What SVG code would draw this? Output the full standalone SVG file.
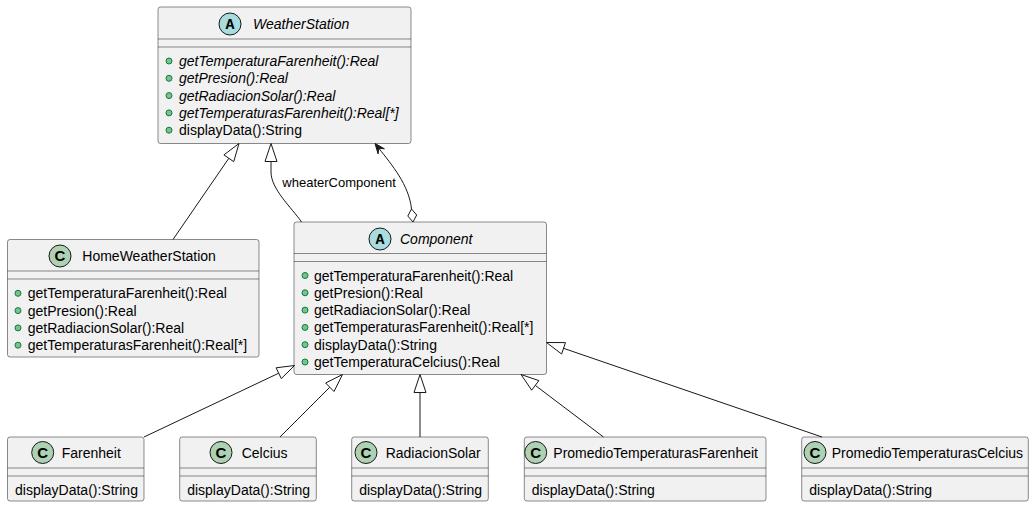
<svg xmlns="http://www.w3.org/2000/svg" width="1034" height="507" viewBox="0 0 1034 507">
<style>
.box{fill:#F1F1F1;stroke:#181818;stroke-width:0.5}
.sep{stroke:#181818;stroke-width:0.5}
.t{font-family:"Liberation Sans",Arial,sans-serif;font-size:14px;fill:#000}
.it{font-style:italic}
.ci{stroke:#181818;stroke-width:1}
.cc{fill:#ADD1B2}
.ca{fill:#A9DCDF}
.cl{font-family:"Liberation Sans",Arial,sans-serif;font-weight:bold;font-size:15px;text-anchor:middle;fill:#000}
.al{font-family:"Liberation Mono","Courier New",monospace;font-weight:bold;font-size:15px;text-anchor:middle;fill:#000}
.b{fill:#84BE84;stroke:#038048;stroke-width:1}
.ln{fill:none;stroke:#181818;stroke-width:1}
.tri{fill:none;stroke:#181818;stroke-width:1}
.lbl{font-family:"Liberation Sans",Arial,sans-serif;font-size:13px;fill:#000}
</style>
<rect width="1034" height="507" fill="#FFFFFF"/>

<g id="WeatherStation">
<rect class="box" x="158" y="7" width="253" height="136.5" rx="2.5"/>
<circle class="ci ca" cx="230" cy="24" r="11"/>
<text class="al" x="230" y="29">A</text>
<text class="t it" x="253" y="29">WeatherStation</text>
<line class="sep" x1="158" y1="39" x2="411" y2="39"/>
<line class="sep" x1="158" y1="47" x2="411" y2="47"/>
<circle class="b" cx="169" cy="61" r="3"/><text class="t it" x="179" y="66">getTemperaturaFarenheit():Real</text>
<circle class="b" cx="169" cy="78.3" r="3"/><text class="t it" x="179" y="83.3">getPresion():Real</text>
<circle class="b" cx="169" cy="95.6" r="3"/><text class="t it" x="179" y="100.6">getRadiacionSolar():Real</text>
<circle class="b" cx="169" cy="112.9" r="3"/><text class="t it" x="179" y="117.9">getTemperaturasFarenheit():Real[*]</text>
<circle class="b" cx="169" cy="130.2" r="3"/><text class="t" x="179" y="135.2">displayData():String</text>
</g>

<g id="HomeWeatherStation">
<rect class="box" x="7.5" y="239.5" width="251.5" height="117.5" rx="2.5"/>
<circle class="ci cc" cx="60" cy="256" r="11"/>
<text class="cl" x="60" y="261.3">C</text>
<text class="t" x="82.3" y="261">HomeWeatherStation</text>
<line class="sep" x1="7.5" y1="271" x2="259" y2="271"/>
<line class="sep" x1="7.5" y1="279" x2="259" y2="279"/>
<circle class="b" cx="18" cy="293.3" r="3"/><text class="t" x="27.7" y="298.3">getTemperaturaFarenheit():Real</text>
<circle class="b" cx="18" cy="310.6" r="3"/><text class="t" x="27.7" y="315.6">getPresion():Real</text>
<circle class="b" cx="18" cy="327.9" r="3"/><text class="t" x="27.7" y="332.9">getRadiacionSolar():Real</text>
<circle class="b" cx="18" cy="345.2" r="3"/><text class="t" x="27.7" y="350.2">getTemperaturasFarenheit():Real[*]</text>
</g>

<g id="Component">
<rect class="box" x="294" y="222" width="252.5" height="152.5" rx="2.5"/>
<circle class="ci ca" cx="380" cy="239" r="11"/>
<text class="al" x="380" y="244">A</text>
<text class="t it" x="400" y="244">Component</text>
<line class="sep" x1="294" y1="253.5" x2="546.5" y2="253.5"/>
<line class="sep" x1="294" y1="261.5" x2="546.5" y2="261.5"/>
<circle class="b" cx="305" cy="275.5" r="3"/><text class="t" x="314" y="280.5">getTemperaturaFarenheit():Real</text>
<circle class="b" cx="305" cy="292.8" r="3"/><text class="t" x="314" y="297.8">getPresion():Real</text>
<circle class="b" cx="305" cy="310.1" r="3"/><text class="t" x="314" y="315.1">getRadiacionSolar():Real</text>
<circle class="b" cx="305" cy="327.4" r="3"/><text class="t" x="314" y="332.4">getTemperaturasFarenheit():Real[*]</text>
<circle class="b" cx="305" cy="344.7" r="3"/><text class="t" x="314" y="349.7">displayData():String</text>
<circle class="b" cx="305" cy="362" r="3"/><text class="t" x="314" y="367">getTemperaturaCelcius():Real</text>
</g>

<g id="Farenheit">
<rect class="box" x="7.5" y="437" width="136.5" height="64" rx="2.5"/>
<circle class="ci cc" cx="42.7" cy="452.5" r="11"/>
<text class="cl" x="42.7" y="457.8">C</text>
<text class="t" x="61.7" y="457.5">Farenheit</text>
<line class="sep" x1="7.5" y1="468" x2="144" y2="468"/>
<line class="sep" x1="7.5" y1="476" x2="144" y2="476"/>
<text class="t" x="15" y="495">displayData():String</text>
</g>

<g id="Celcius">
<rect class="box" x="179.7" y="437" width="136.6" height="64" rx="2.5"/>
<circle class="ci cc" cx="221" cy="452.5" r="11"/>
<text class="cl" x="221" y="457.8">C</text>
<text class="t" x="241.7" y="457.5">Celcius</text>
<line class="sep" x1="179.7" y1="468" x2="316.3" y2="468"/>
<line class="sep" x1="179.7" y1="476" x2="316.3" y2="476"/>
<text class="t" x="187.2" y="495">displayData():String</text>
</g>

<g id="RadiacionSolar">
<rect class="box" x="351.7" y="437" width="136.6" height="64" rx="2.5"/>
<circle class="ci cc" cx="366" cy="452.5" r="11"/>
<text class="cl" x="366" y="457.8">C</text>
<text class="t" x="385.7" y="457.5">RadiacionSolar</text>
<line class="sep" x1="351.7" y1="468" x2="488.3" y2="468"/>
<line class="sep" x1="351.7" y1="476" x2="488.3" y2="476"/>
<text class="t" x="359.2" y="495">displayData():String</text>
</g>

<g id="PromedioTemperaturasFarenheit">
<rect class="box" x="524.3" y="437" width="241.7" height="64" rx="2.5"/>
<circle class="ci cc" cx="535.7" cy="452.5" r="11"/>
<text class="cl" x="535.7" y="457.8">C</text>
<text class="t" x="553.3" y="457.5">PromedioTemperaturasFarenheit</text>
<line class="sep" x1="524.3" y1="468" x2="766" y2="468"/>
<line class="sep" x1="524.3" y1="476" x2="766" y2="476"/>
<text class="t" x="531.8" y="495">displayData():String</text>
</g>

<g id="PromedioTemperaturasCelcius">
<rect class="box" x="801.7" y="437" width="226.6" height="64" rx="2.5"/>
<circle class="ci cc" cx="815" cy="452.5" r="11"/>
<text class="cl" x="815" y="457.8">C</text>
<text class="t" x="831.7" y="457.5">PromedioTemperaturasCelcius</text>
<line class="sep" x1="801.7" y1="468" x2="1028.3" y2="468"/>
<line class="sep" x1="801.7" y1="476" x2="1028.3" y2="476"/>
<text class="t" x="809.2" y="495">displayData():String</text>
</g>

<g id="connectors">
<!-- HomeWeatherStation -> WeatherStation -->
<line class="ln" x1="173" y1="239.5" x2="228.8" y2="158.3"/>
<polygon class="tri" points="239,143.5 233.7,161.7 223.9,154.9"/>
<!-- Component -> WeatherStation -->
<path class="ln" d="M301.5,222 C291,207 271,189 271,172 L271,161.5"/>
<polygon class="tri" points="271,143.5 277,161.5 265,161.5"/>
<text class="lbl" x="282.3" y="187">wheaterComponent</text>
<!-- aggregation Component o-> WeatherStation -->
<path class="ln" d="M411.5,209 C409,185 392,165 378.75,148.2"/>
<polygon points="375,143.5 384.4,148.8 378.75,148.2 378.1,153.8" fill="#181818" stroke="#181818" stroke-width="1"/>
<polygon points="413,222 416.7,215 411.5,209 407.8,216" fill="#FFFFFF" stroke="#181818" stroke-width="1"/>
<!-- Farenheit -> Component -->
<line class="ln" x1="144" y1="437" x2="278.7" y2="373.2"/>
<polygon class="tri" points="294.5,365.5 281.3,378.6 276.1,367.8"/>
<!-- Celcius -> Component -->
<line class="ln" x1="280" y1="437" x2="329.8" y2="387.2"/>
<polygon class="tri" points="342.5,374.5 334,391.5 325.6,383"/>
<!-- RadiacionSolar -> Component -->
<line class="ln" x1="420" y1="437" x2="420" y2="392.5"/>
<polygon class="tri" points="420,374.5 426,392.5 414,392.5"/>
<!-- PromedioTemperaturasFarenheit -> Component -->
<line class="ln" x1="603.5" y1="437" x2="535.3" y2="385.4"/>
<polygon class="tri" points="521,374.5 538.9,380.6 531.7,390.2"/>
<!-- PromedioTemperaturasCelcius -> Component -->
<line class="ln" x1="822" y1="437" x2="563.5" y2="348.3"/>
<polygon class="tri" points="546.5,342.5 565.5,342.6 561.6,354"/>
</g>
</svg>
